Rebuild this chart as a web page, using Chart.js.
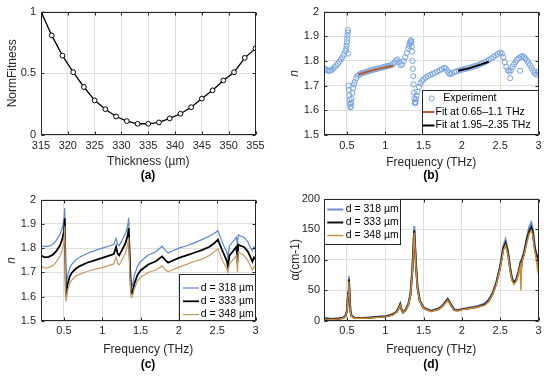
<!DOCTYPE html>
<html>
<head>
<meta charset="utf-8">
<script src="https://cdn.jsdelivr.net/npm/chart.js@4.4.0/dist/chart.umd.min.js"></script>
<style>
  html, body { margin: 0; padding: 0; background: #fff; }
  #wrap { position: relative; width: 550px; height: 377px; overflow: hidden; }
  canvas { position: absolute; }
  .tag { position: absolute; font: bold 12px "Liberation Sans", Arial, sans-serif; color: #000; transform: translate(-50%, -50%); }
</style>
</head>
<body>
<div id="wrap">
  <canvas id="figA" width="275" height="188" style="left:0;top:0"></canvas>
  <canvas id="figB" width="275" height="188" style="left:275px;top:0"></canvas>
  <canvas id="figC" width="275" height="189" style="left:0;top:188px"></canvas>
  <canvas id="figD" width="275" height="189" style="left:275px;top:188px"></canvas>
  <div class="tag" style="left:148px;top:175px">(a)</div>
  <div class="tag" style="left:431px;top:175px">(b)</div>
  <div class="tag" style="left:148px;top:364px">(c)</div>
  <div class="tag" style="left:431px;top:364px">(d)</div>
</div>
<script>
const FONT = '"Liberation Sans", Arial, sans-serif';
const INK = '#262626';
const GRID = '#dedede';

// (a) fitness vs. thickness
const thickness = [315, 317, 319, 321, 323, 325, 327, 329, 331, 333, 335, 337, 339, 341, 343, 345, 347, 349, 351, 353, 355];
const normFitness = [1.0, 0.807, 0.643, 0.509, 0.389, 0.281, 0.209, 0.150, 0.113, 0.091, 0.091, 0.102, 0.134, 0.172, 0.225, 0.295, 0.362, 0.442, 0.509, 0.625, 0.702];
const thickTicks = [315, 320, 325, 330, 335, 340, 345, 350, 355];
const fitnessTicks = [0, 0.5, 1];

// (b) measured refractive index and the two fits
const freqExp = [0.20, 0.22, 0.24, 0.26, 0.28, 0.30, 0.32, 0.34, 0.36, 0.38, 0.40, 0.42, 0.44, 0.46, 0.48, 0.49, 0.495, 0.50, 0.503, 0.506,
  0.509, 0.512, 0.515, 0.52, 0.525, 0.53, 0.535, 0.54, 0.545, 0.55, 0.555, 0.56, 0.57, 0.58, 0.59, 0.60, 0.62, 0.64, 0.66, 0.68,
  0.70, 0.725, 0.75, 0.775, 0.80, 0.825, 0.85, 0.875, 0.90, 0.925, 0.95, 0.975, 1.00, 1.025, 1.05, 1.075, 1.10, 1.12, 1.14, 1.16,
  1.18, 1.20, 1.22, 1.24, 1.26, 1.28, 1.30, 1.31, 1.32, 1.33, 1.335, 1.34, 1.345, 1.35, 1.355, 1.36, 1.365, 1.37, 1.375, 1.38,
  1.385, 1.39, 1.395, 1.40, 1.41, 1.42, 1.44, 1.46, 1.48, 1.50, 1.53, 1.56, 1.59, 1.62, 1.65, 1.68, 1.71, 1.74, 1.77, 1.79,
  1.81, 1.83, 1.85, 1.87, 1.90, 1.93, 1.96, 1.99, 2.02, 2.05, 2.08, 2.11, 2.14, 2.17, 2.20, 2.23, 2.26, 2.29, 2.32, 2.35,
  2.38, 2.41, 2.44, 2.47, 2.50, 2.52, 2.54, 2.56, 2.58, 2.60, 2.62, 2.63, 2.64, 2.66, 2.68, 2.70, 2.72, 2.74, 2.76, 2.77,
  2.79, 2.81, 2.83, 2.85, 2.87, 2.89, 2.91, 2.93, 2.95, 2.97, 2.99, 3.00];
const nExp = [1.770, 1.766, 1.762, 1.760, 1.761, 1.764, 1.769, 1.775, 1.782, 1.789, 1.797, 1.806, 1.815, 1.826, 1.840, 1.850, 1.862, 1.876, 1.890, 1.903,
  1.915, 1.925, 1.830, 1.700, 1.682, 1.662, 1.642, 1.625, 1.612, 1.615, 1.630, 1.646, 1.670, 1.690, 1.705, 1.715, 1.730, 1.740, 1.745, 1.748,
  1.751, 1.753, 1.756, 1.758, 1.760, 1.763, 1.765, 1.767, 1.769, 1.771, 1.773, 1.775, 1.777, 1.779, 1.781, 1.783, 1.787, 1.794, 1.802, 1.806,
  1.795, 1.783, 1.786, 1.800, 1.815, 1.832, 1.850, 1.861, 1.872, 1.880, 1.884, 1.876, 1.860, 1.838, 1.800, 1.768, 1.738, 1.705, 1.672, 1.648,
  1.633, 1.628, 1.634, 1.645, 1.660, 1.675, 1.695, 1.709, 1.719, 1.726, 1.733, 1.739, 1.744, 1.748, 1.752, 1.757, 1.762, 1.767, 1.772, 1.770,
  1.760, 1.750, 1.747, 1.750, 1.755, 1.758, 1.761, 1.764, 1.766, 1.768, 1.771, 1.773, 1.776, 1.779, 1.782, 1.786, 1.790, 1.794, 1.799, 1.804,
  1.810, 1.816, 1.822, 1.829, 1.835, 1.830, 1.815, 1.795, 1.776, 1.762, 1.757, 1.730, 1.762, 1.775, 1.786, 1.796, 1.805, 1.811, 1.760, 1.816,
  1.820, 1.816, 1.810, 1.801, 1.792, 1.782, 1.771, 1.760, 1.750, 1.745, 1.753, 1.758];
const fitLowF = [0.65, 0.8, 0.95, 1.1];
const fitLowN = [1.745, 1.759, 1.771, 1.781];
const fitHighF = [1.95, 2.1, 2.25, 2.35];
const fitHighN = [1.760, 1.771, 1.786, 1.797];
const freqTicks = [0.5, 1, 1.5, 2, 2.5, 3];
const nTicks = [1.5, 1.6, 1.7, 1.8, 1.9, 2];

// (c) refractive index for three thicknesses
const freqN = [0.2, 0.25, 0.3, 0.35, 0.4, 0.45, 0.48, 0.5, 0.51, 0.525, 0.535, 0.55, 0.575, 0.6, 0.65, 0.7, 0.8, 0.9, 1.0, 1.1,
  1.15, 1.18, 1.2, 1.22, 1.25, 1.3, 1.33, 1.345, 1.36, 1.375, 1.39, 1.42, 1.46, 1.5, 1.6, 1.7, 1.78, 1.82, 1.86, 1.9,
  2.0, 2.1, 2.2, 2.3, 2.4, 2.46, 2.51, 2.56, 2.6, 2.625, 2.64, 2.66, 2.7, 2.75, 2.765, 2.775, 2.8, 2.85, 2.9, 2.93,
  2.96, 2.98, 3.0];
const n318 = [1.81, 1.806, 1.808, 1.815, 1.832, 1.858, 1.885, 1.915, 1.965, 1.645, 1.665, 1.69, 1.718, 1.733, 1.75, 1.762, 1.778, 1.79, 1.80, 1.81,
  1.816, 1.84, 1.815, 1.81, 1.828, 1.858, 1.89, 1.925, 1.78, 1.655, 1.645, 1.69, 1.725, 1.745, 1.772, 1.785, 1.808, 1.792, 1.78, 1.786,
  1.80, 1.81, 1.822, 1.835, 1.85, 1.86, 1.872, 1.83, 1.80, 1.785, 1.76, 1.81, 1.825, 1.845, 1.815, 1.855, 1.85, 1.845, 1.826, 1.805,
  1.79, 1.805, 1.798];
const n333 = [1.77, 1.762, 1.764, 1.772, 1.788, 1.813, 1.84, 1.87, 1.923, 1.60, 1.625, 1.655, 1.683, 1.698, 1.714, 1.725, 1.74, 1.75, 1.76, 1.77,
  1.776, 1.805, 1.778, 1.77, 1.788, 1.818, 1.85, 1.882, 1.74, 1.62, 1.612, 1.655, 1.69, 1.708, 1.733, 1.746, 1.766, 1.752, 1.74, 1.746,
  1.76, 1.77, 1.781, 1.792, 1.806, 1.82, 1.835, 1.795, 1.766, 1.748, 1.725, 1.77, 1.785, 1.805, 1.74, 1.815, 1.81, 1.805, 1.786, 1.766,
  1.745, 1.762, 1.755];
const n348 = [1.725, 1.718, 1.72, 1.727, 1.743, 1.768, 1.795, 1.828, 1.89, 1.58, 1.598, 1.628, 1.655, 1.668, 1.683, 1.692, 1.704, 1.713, 1.72, 1.73,
  1.735, 1.765, 1.738, 1.73, 1.748, 1.778, 1.812, 1.845, 1.70, 1.60, 1.598, 1.635, 1.665, 1.68, 1.70, 1.71, 1.727, 1.712, 1.703, 1.708,
  1.722, 1.733, 1.745, 1.755, 1.77, 1.785, 1.797, 1.755, 1.73, 1.715, 1.70, 1.735, 1.75, 1.77, 1.70, 1.785, 1.78, 1.77, 1.75, 1.73,
  1.71, 1.725, 1.72];

// (d) absorption coefficient for three thicknesses
const freqA = [0.2, 0.3, 0.4, 0.45, 0.48, 0.5, 0.515, 0.525, 0.535, 0.545, 0.56, 0.6, 0.7, 0.8, 0.9, 1.0, 1.05, 1.1, 1.15, 1.17,
  1.195, 1.21, 1.23, 1.26, 1.3, 1.33, 1.355, 1.378, 1.4, 1.42, 1.45, 1.5, 1.6, 1.7, 1.75, 1.815, 1.85, 1.9, 1.95, 2.0,
  2.1, 2.2, 2.3, 2.35, 2.4, 2.45, 2.5, 2.54, 2.57, 2.6, 2.63, 2.655, 2.68, 2.71, 2.74, 2.76, 2.77, 2.78, 2.81, 2.85,
  2.88, 2.905, 2.925, 2.95, 2.97, 2.985, 3.0];
const a318 = [5, 3.5, 4.5, 5.5, 9, 17, 48, 73, 40, 17, 8.5, 5.5, 5, 6, 7, 8, 9, 11.5, 15.5, 21,
  28, 20, 14.5, 17.5, 27, 46, 89, 155, 96, 57, 34, 22, 17, 21, 26, 37, 29, 19, 18, 19.5,
  22, 24, 29, 35, 46, 64, 91, 122, 133, 116, 88, 70, 64, 69, 82, 94, 92, 100, 113, 138,
  154, 161, 151, 124, 110, 104, 110];
const a333 = [4, 3, 4, 5, 8, 16, 45, 68, 38, 16, 8, 5, 5, 5.5, 6.5, 7.5, 8.5, 11, 15, 20,
  27, 19, 14, 17, 26, 44, 85, 148, 92, 55, 33, 21, 16, 20, 25, 35, 28, 18, 17, 19,
  21, 23, 27, 33, 44, 62, 88, 118, 127, 112, 85, 68, 62, 67, 80, 91, 80, 97, 110, 133,
  147, 153, 145, 120, 107, 98, 108];
const a348 = [3.5, 2.5, 3.5, 4.5, 7.5, 15, 43, 65, 36, 15, 7.5, 4.5, 4.5, 5, 6, 7, 8, 10.5, 14.5, 19.5,
  26, 18.5, 13.5, 16.5, 25, 43, 82, 144, 89, 53, 32, 20.5, 15.5, 19.5, 24.5, 34, 27, 17.5, 16.5, 18.5,
  20.5, 22.5, 26, 32, 43, 60, 86, 115, 124, 109, 83, 66, 60, 65, 78, 89, 50, 95, 107, 129,
  143, 148, 141, 116, 103, 86, 104];
const alphaTicks = [0, 50, 100, 150, 200];

const pts = (xs, ys) => xs.map((x, i) => ({ x: x, y: ys[i] }));

// full box round the axes with small inward tick marks, like the original figure
const framePlugin = {
  id: 'frame',
  afterDatasetsDraw(chart) {
    const { ctx, chartArea: a, scales: { x, y } } = chart;
    const L = Math.round(a.left) + 0.5, R = Math.round(a.right) - 0.5;
    const T = Math.round(a.top) + 0.5, B = Math.round(a.bottom) - 0.5;
    ctx.save();
    ctx.strokeStyle = INK;
    ctx.lineWidth = 1;
    ctx.strokeRect(L, T, R - L, B - T);
    ctx.beginPath();
    x.ticks.forEach(t => {
      const px = Math.round(x.getPixelForValue(t.value)) + 0.5;
      ctx.moveTo(px, B); ctx.lineTo(px, B - 3);
      ctx.moveTo(px, T); ctx.lineTo(px, T + 3);
    });
    y.ticks.forEach(t => {
      const py = Math.round(y.getPixelForValue(t.value)) + 0.5;
      ctx.moveTo(L, py); ctx.lineTo(L + 3, py);
      ctx.moveTo(R, py); ctx.lineTo(R - 3, py);
    });
    ctx.stroke();
    ctx.restore();
  }
};

// legend in a white box inside the axes
const legendPlugin = {
  id: 'boxLegend',
  afterDraw(chart, args, o) {
    if (!o || !o.box) return;
    const ctx = chart.ctx;
    const [x0, y0, x1, y1] = o.box;
    ctx.save();
    ctx.fillStyle = '#fff';
    ctx.fillRect(x0, y0, x1 - x0, y1 - y0);
    ctx.strokeStyle = INK;
    ctx.lineWidth = 1;
    ctx.strokeRect(Math.round(x0) + 0.5, Math.round(y0) + 0.5, Math.round(x1 - x0) - 1, Math.round(y1 - y0) - 1);
    ctx.font = '10.5px ' + FONT;
    ctx.textBaseline = 'middle';
    o.items.forEach((idx, i) => {
      const ds = chart.data.datasets[idx];
      const yy = o.firstRow + i * o.rowGap;
      if (ds.showLine === false) {
        ctx.strokeStyle = ds.pointBorderColor;
        ctx.lineWidth = 1;
        ctx.beginPath();
        ctx.arc(o.markerX, yy, 2.6, 0, Math.PI * 2);
        ctx.stroke();
        ctx.fillStyle = '#000';
        ctx.fillText(ds.label, o.markerText, yy);
      } else {
        ctx.strokeStyle = ds.borderColor;
        ctx.lineWidth = ds.borderWidth;
        ctx.beginPath();
        ctx.moveTo(o.sample[0], yy); ctx.lineTo(o.sample[1], yy);
        ctx.stroke();
        ctx.fillStyle = '#000';
        ctx.fillText(ds.label, o.textX, yy);
      }
    });
    ctx.restore();
  }
};

function makeChart(id, f, spec) {
  const canvas = document.getElementById(id);
  const W = canvas.width, H = canvas.height;
  const tickFont = { family: FONT, size: 11 };
  return new Chart(canvas, {
    type: 'scatter',
    data: { datasets: spec.datasets },
    options: {
      responsive: false,
      animation: false,
      devicePixelRatio: 1,
      layout: { padding: { top: f.t, right: W - f.r, left: 0, bottom: 0 } },
      plugins: {
        legend: { display: false },
        tooltip: { enabled: false },
        boxLegend: spec.legend || false
      },
      scales: {
        x: {
          type: 'linear', min: spec.xMin, max: spec.xMax,
          afterFit: s => { s.height = H - f.b; },
          afterBuildTicks: s => { s.ticks = spec.xTicks.map(v => ({ value: v })); },
          grid: { color: GRID, drawTicks: false },
          border: { display: false },
          ticks: { color: INK, font: tickFont, padding: spec.xPad, maxRotation: 0, autoSkip: false, callback: v => String(v) },
          title: { display: true, text: spec.xTitle, color: INK, font: { family: FONT, size: 12 }, padding: { top: 0, bottom: spec.xTitlePad } }
        },
        y: {
          type: 'linear', min: spec.yMin, max: spec.yMax,
          afterFit: s => { s.width = f.l; },
          afterBuildTicks: s => { s.ticks = spec.yTicks.map(v => ({ value: v })); },
          grid: { color: GRID, drawTicks: false },
          border: { display: false },
          ticks: { color: INK, font: tickFont, padding: spec.yPad, autoSkip: false, callback: v => String(v) },
          title: { display: true, text: spec.yTitle, color: INK, font: { family: FONT, size: 12, style: spec.yItalic ? 'italic' : 'normal' }, padding: { top: spec.yTitlePad, bottom: 0 } }
        }
      }
    },
    plugins: [framePlugin, legendPlugin]
  });
}

// (a)
makeChart('figA', { l: 41, t: 11, r: 255.5, b: 135 }, {
  xMin: 315, xMax: 355, xTicks: thickTicks, xTitle: 'Thickness (µm)', xPad: 4, xTitlePad: 18.8,
  yMin: 0, yMax: 1, yTicks: fitnessTicks, yTitle: 'NormFitness', yPad: 5, yTitlePad: 5.3,
  datasets: [{
    data: pts(thickness, normFitness), showLine: true, borderColor: '#000', borderWidth: 1.3,
    pointRadius: 2.4, pointBorderWidth: 1, pointBorderColor: '#000', pointBackgroundColor: '#fff'
  }]
});

// (b)
makeChart('figB', { l: 49, t: 11, r: 263.5, b: 135 }, {
  xMin: 0.2, xMax: 3, xTicks: freqTicks, xTitle: 'Frequency (THz)', xPad: 4, xTitlePad: 18.5,
  yMin: 1.5, yMax: 2, yTicks: nTicks, yTitle: 'n', yItalic: true, yPad: 5, yTitlePad: 12.8,
  datasets: [
    { label: 'Experiment', data: pts(freqExp, nExp), showLine: false, order: 3,
      pointRadius: 2.6, pointBorderWidth: 1, pointBorderColor: '#76a2e2', pointBackgroundColor: 'rgba(0,0,0,0)' },
    { label: 'Fit at 0.65\u20131.1 THz', data: pts(fitLowF, fitLowN), showLine: true, order: 1,
      borderColor: '#b85a2a', borderWidth: 2, pointRadius: 0 },
    { label: 'Fit at 1.95\u20132.35 THz', data: pts(fitHighF, fitHighN), showLine: true, order: 2,
      borderColor: '#000', borderWidth: 2, pointRadius: 0 }
  ],
  legend: { box: [146.7, 90, 263.5, 135], items: [0, 1, 2], firstRow: 98.5, rowGap: 13.5,
    markerX: 156.7, markerText: 168.3, sample: [148, 159.5], textX: 160.5 }
});

// (c)
makeChart('figC', { l: 41, t: 10.5, r: 255.5, b: 133 }, {
  xMin: 0.2, xMax: 3, xTicks: freqTicks, xTitle: 'Frequency (THz)', xPad: 3, xTitlePad: 20.5,
  yMin: 1.5, yMax: 2, yTicks: nTicks, yTitle: 'n', yItalic: true, yPad: 5, yTitlePad: 4.8,
  datasets: [
    { label: 'd = 318 µm', data: pts(freqN, n318), showLine: true, borderColor: '#5b87d6', borderWidth: 1.2, pointRadius: 0, order: 3 },
    { label: 'd = 333 µm', data: pts(freqN, n333), showLine: true, borderColor: '#000', borderWidth: 1.8, pointRadius: 0, order: 2 },
    { label: 'd = 348 µm', data: pts(freqN, n348), showLine: true, borderColor: '#c49a62', borderWidth: 1.2, pointRadius: 0, order: 1 }
  ],
  legend: { box: [179, 86, 255.5, 133], items: [0, 1, 2], firstRow: 100, rowGap: 13.3,
    sample: [183, 199], textX: 200.7 }
});

// (d)
makeChart('figD', { l: 49, t: 10.5, r: 263.5, b: 133 }, {
  xMin: 0.2, xMax: 3, xTicks: freqTicks, xTitle: 'Frequency (THz)', xPad: 3, xTitlePad: 20.5,
  yMin: 0, yMax: 200, yTicks: alphaTicks, yTitle: 'α(cm-1)', yPad: 4, yTitlePad: 13.5,
  datasets: [
    { label: 'd = 318 µm', data: pts(freqA, a318), showLine: true, borderColor: '#6c8fd8', borderWidth: 2, pointRadius: 0, order: 3 },
    { label: 'd = 333 µm', data: pts(freqA, a333), showLine: true, borderColor: '#111', borderWidth: 2, pointRadius: 0, order: 2 },
    { label: 'd = 348 µm', data: pts(freqA, a348), showLine: true, borderColor: '#d08a36', borderWidth: 1.4, pointRadius: 0, order: 1 }
  ],
  legend: { box: [49, 10.5, 126, 56.5], items: [0, 1, 2], firstRow: 21.5, rowGap: 13,
    sample: [52.3, 68.3], textX: 70.7 }
});
</script>
</body>
</html>
